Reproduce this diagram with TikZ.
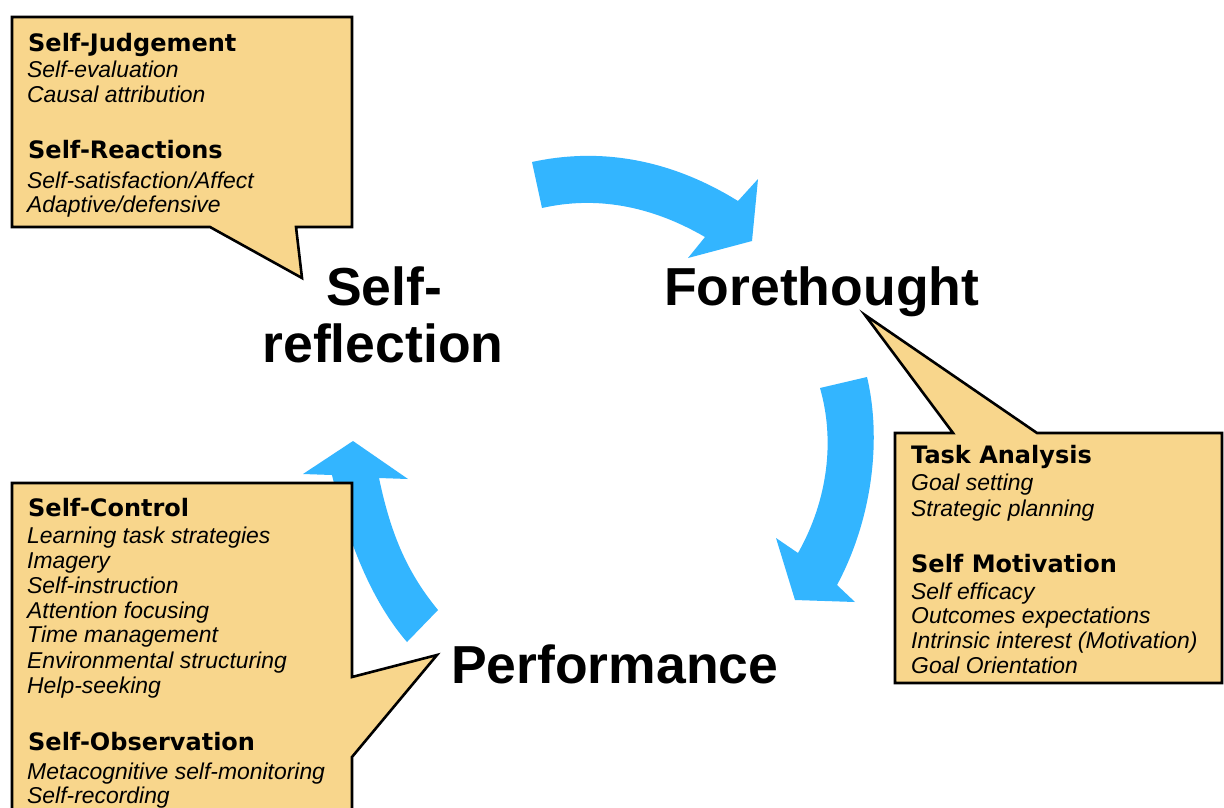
\documentclass[tikz,border=0pt]{standalone}
\usepackage{fontspec}
\setmainfont{Liberation Sans}
\newfontfamily\headfont{DejaVu Sans}
\definecolor{boxfill}{HTML}{F8D68C}
\definecolor{arrowblue}{HTML}{33B5FF}
\begin{document}
\begin{tikzpicture}[x=1pt,y=-1pt,
  callout/.style={fill=boxfill,draw=black,line width=2.6pt,line join=miter},
  blockarrow/.style={fill=arrowblue,draw=none},
  head/.style={anchor=base west,inner sep=0pt,font=\headfont\bfseries\fontsize{24}{28}\selectfont},
  item/.style={anchor=base west,inner sep=0pt,font=\itshape\fontsize{22.9}{25}\selectfont},
  big/.style={inner sep=0pt,font=\bfseries\fontsize{53.5}{57}\selectfont}]
\useasboundingbox (0,0) rectangle (1224,807);
\clip (0,0) rectangle (1224,807);
\fill[white] (0,0) rectangle (1224,807);

% block arrows
\path[blockarrow] (532,162) .. controls (610,145) and (680,165) .. (738,201)
  -- (758,179) -- (752,241) -- (688,258) -- (705,237)
  .. controls (650,205) and (595,196) .. (542,208) -- cycle;
\path[blockarrow] (820,388) -- (867,377) .. controls (882,440) and (872,520) .. (837,585)
  -- (855,602) -- (795,600) -- (776,538) -- (798,553)
  .. controls (828,500) and (835,440) .. (820,388) -- cycle;
\path[blockarrow] (407,642) .. controls (375,605) and (350,550) .. (332,475)
  -- (303,474) -- (353,441) -- (408,479) -- (379,478)
  .. controls (390,530) and (405,570) .. (438,610) -- cycle;

% callouts
\draw[callout] (12,17) -- (352,17) -- (352,227) -- (296,227) -- (302,278) -- (210,227) -- (12,227) -- cycle;
\draw[callout] (895,433) -- (953,433) -- (865,315) -- (1037,433) -- (1222,433) -- (1222,683) -- (895,683) -- cycle;
\draw[callout] (12,483) -- (352,483) -- (352,677) -- (437,655) -- (352,757) -- (352,820) -- (12,820) -- cycle;

% phase labels
\node[big,anchor=base] (sr1) at (384,305) {Self-};
\node[big,anchor=base] (sr2) at (383,362) {reflection};
\node[big,anchor=base west] (fore) at (664,305) {Forethought};
\node[big,anchor=base west] (perf) at (451,683) {Performance};

% self-reflection callout
\node[head] (sj) at (28,51) {Self-Judgement};
\node[item] (sj1) at (27,77) {Self-evaluation};
\node[item] (sj2) at (27,102) {Causal attribution};
\node[head] (sre) at (28,158) {Self-Reactions};
\node[item] (sre1) at (27,188) {Self-satisfaction/Affect};
\node[item] (sre2) at (27,212) {Adaptive/defensive};

% forethought callout
\node[head] (ta) at (911,463) {Task Analysis};
\node[item] (ta1) at (911,490) {Goal setting};
\node[item] (ta2) at (911,516) {Strategic planning};
\node[head] (sm) at (911,572) {Self Motivation};
\node[item] (sm1) at (911,599) {Self efficacy};
\node[item] (sm2) at (911,623) {Outcomes expectations};
\node[item] (sm3) at (911,648) {Intrinsic interest (Motivation)};
\node[item] (sm4) at (911,673) {Goal Orientation};

% performance callout
\node[head] (sc) at (28,516) {Self-Control};
\node[item] (sc1) at (27,543) {Learning task strategies};
\node[item] (sc2) at (27,568) {Imagery};
\node[item] (sc3) at (27,593) {Self-instruction};
\node[item] (sc4) at (27,618) {Attention focusing};
\node[item] (sc5) at (27,642) {Time management};
\node[item] (sc6) at (27,668) {Environmental structuring};
\node[item] (sc7) at (27,693) {Help-seeking};
\node[head] (so) at (28,750) {Self-Observation};
\node[item] (so1) at (27,779) {Metacognitive self-monitoring};
\node[item] (so2) at (27,803) {Self-recording};
\end{tikzpicture}
\end{document}
